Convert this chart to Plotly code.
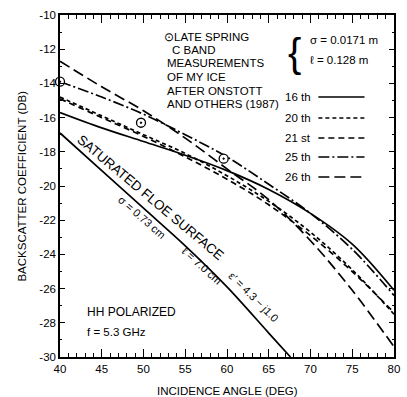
import plotly.graph_objects as go

# ---------------- data ----------------
angles = [40, 45, 50, 55, 60, 65, 70, 75, 80]
bs_16th = [-15.7, -16.6, -17.4, -18.2, -19.1, -20.2, -21.6, -23.4, -26.1]
bs_20th = [-14.8, -15.9, -17.0, -18.1, -19.4, -20.9, -22.7, -24.9, -27.5]
bs_21st = [-14.9, -16.0, -17.1, -18.3, -19.6, -21.1, -22.9, -25.0, -27.4]
bs_25th = [-13.9, -14.8, -15.8, -17.0, -18.3, -19.9, -21.6, -23.7, -26.4]
bs_26th = [-12.7, -14.2, -15.6, -17.2, -19.0, -20.8, -23.2, -26.1, -29.4]

sat_angles = [40, 45, 50, 55, 60, 65, 67.6]
sat_bs = [-16.9, -19.1, -21.3, -23.5, -25.9, -28.6, -30.0]

meas_angles = [40, 49.7, 59.6]
meas_bs = [-13.9, -16.3, -18.4]

x_ticks = [40, 45, 50, 55, 60, 65, 70, 75, 80]
y_ticks = [-10, -12, -14, -16, -18, -20, -22, -24, -26, -28, -30]

series = [
    ("16 th", bs_16th, "solid"),
    ("20 th", bs_20th, "4px,3px"),
    ("21 st", bs_21st, "6px,4px"),
    ("25 th", bs_25th, "11px,3px,2px,3px"),
    ("26 th", bs_26th, "11px,5px"),
]

FONT = "Liberation Sans"
fig = go.Figure()

for name, ys, dash in series:
    fig.add_trace(go.Scatter(x=angles, y=ys, mode="lines", name=name,
                             line=dict(color="black", width=1.7, dash=dash, shape="spline"),
                             showlegend=False))

fig.add_trace(go.Scatter(x=sat_angles, y=sat_bs, mode="lines",
                         line=dict(color="black", width=1.7, shape="spline"),
                         showlegend=False))

fig.add_trace(go.Scatter(x=meas_angles, y=meas_bs, mode="markers",
                         marker=dict(symbol="circle-dot", size=9, color="white",
                                     line=dict(color="black", width=1.3)),
                         showlegend=False, cliponaxis=False))

anns = []
def txt(x, y, s, size=12, xanchor="left", angle=0, xref="x", yref="y", yanchor="middle"):
    anns.append(dict(x=x, y=y, xref=xref, yref=yref, text=s, showarrow=False,
                     xanchor=xanchor, yanchor=yanchor, textangle=angle,
                     font=dict(family=FONT, size=size, color="black")))

def px2x(px):
    return 40 + (px - 60) / 8.5

def py2y(py):
    return -10 - (py - 15) / 17.1

# measurement note block
block = [("⊙LATE SPRING", 37), ("C BAND", 50), ("MEASUREMENTS", 63),
         ("OF MY ICE", 77), ("AFTER ONSTOTT", 91), ("AND OTHERS (1987)", 104)]
for s, py in block:
    xpx = 164 if s.startswith("⊙") else 167
    if s == "C BAND":
        xpx = 172
    txt(px2x(xpx), py2y(py), s, size=11.5)

# brace block
txt(px2x(290), py2y(53), "{", size=40)
txt(px2x(312), py2y(40), "σ = 0.0171 m", size=11.5)
txt(px2x(312), py2y(60), "ℓ = 0.128 m", size=11.5)

# manual legend
leg_y = [97, 118, 138, 157, 177]
for (name, ys, dash), py in zip(series, leg_y):
    txt(px2x(318), py2y(py), name, size=11.5, xanchor="right")
    fig.add_shape(type="line", x0=px2x(323), x1=px2x(370), y0=py2y(py), y1=py2y(py),
                  line=dict(color="black", width=1.7, dash=dash))

# curve labels
txt(50.8, -20.7, "SATURATED FLOE SURFACE", size=13.5, xanchor="center", angle=40)
txt(49.8, -21.8, "σ = 0.73 cm", size=11, xanchor="center", angle=41)
txt(57.0, -24.7, "ℓ = 7.0 cm", size=11, xanchor="center", angle=42)
txt(63.2, -26.5, "ε′ = 4.3 − j1.0", size=11, xanchor="center", angle=45)

txt(px2x(85), py2y(312), "HH POLARIZED", size=12)
txt(px2x(85), py2y(332), "f = 5.3 GHz", size=11.5)

# axis titles
anns.append(dict(x=0.5, y=-0.075, xref="paper", yref="paper", text="INCIDENCE ANGLE (DEG)",
                 showarrow=False, xanchor="center", yanchor="top",
                 font=dict(family=FONT, size=11.5, color="black")))
anns.append(dict(x=-0.115, y=0.5, xref="paper", yref="paper", text="BACKSCATTER COEFFICIENT (DB)",
                 showarrow=False, xanchor="center", yanchor="middle", textangle=-90,
                 font=dict(family=FONT, size=11.5, color="black")))

fig.update_layout(
    width=407, height=397,
    margin=dict(l=60, r=7, t=15, b=40),
    paper_bgcolor="white", plot_bgcolor="white",
    annotations=anns,
    font=dict(family=FONT, size=11, color="black"),
)

fig.update_xaxes(range=[40, 80], tickvals=x_ticks, ticktext=[str(v) for v in x_ticks],
                 showgrid=False, zeroline=False, showline=True, linecolor="black", linewidth=1.5,
                 mirror="allticks", ticks="inside", ticklen=8, tickwidth=1.3, tickcolor="black",
                 minor=dict(dtick=1, ticks="inside", ticklen=4, tickwidth=1.2, tickcolor="black"),
                 tickfont=dict(family=FONT, size=11.5, color="black"))
fig.update_yaxes(range=[-30, -10], tickvals=y_ticks, ticktext=[str(v) for v in y_ticks],
                 showgrid=False, zeroline=False, showline=True, linecolor="black", linewidth=1.5,
                 mirror="allticks", ticks="inside", ticklen=5, tickwidth=1.3, tickcolor="black",
                 minor=dict(dtick=1, ticks="inside", ticklen=2, tickwidth=1.2, tickcolor="black"),
                 tickfont=dict(family=FONT, size=11.5, color="black"))

fig.write_html("out.html", config={"displayModeBar": False},
               post_script="document.body.style.margin='0';document.body.style.overflow='hidden';")
